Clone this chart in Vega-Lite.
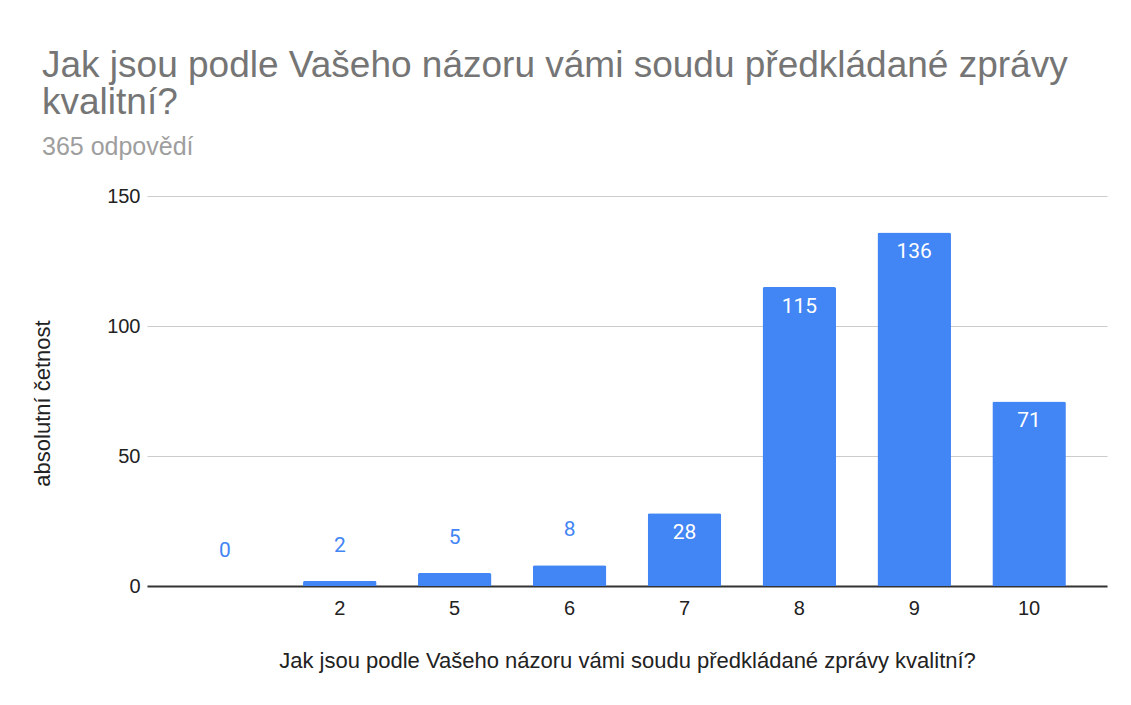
{
  "$schema": "https://vega.github.io/schema/vega-lite/v6.json",
  "width": 960,
  "height": 390,
  "autosize": {"type": "none"},
  "padding": {"left": 147, "top": 196, "right": 24, "bottom": 119},
  "background": "white",
  "view": {"stroke": null},
  "title": {
    "text": ["Jak jsou podle Vašeho názoru vámi soudu  předkládané zprávy", "kvalitní?"],
    "subtitle": "365 odpovědí",
    "anchor": "start",
    "frame": "group",
    "dx": -105,
    "offset": 25,
    "font": "Liberation Sans",
    "fontSize": 37,
    "fontWeight": "normal",
    "color": "#757575",
    "lineHeight": 37,
    "subtitleFont": "Liberation Sans",
    "subtitleFontSize": 25,
    "subtitleColor": "#9e9e9e",
    "subtitlePadding": 13
  },
  "data": {
    "values": [
      {"hodnoceni": "", "pocet": 0},
      {"hodnoceni": "2", "pocet": 2},
      {"hodnoceni": "5", "pocet": 5},
      {"hodnoceni": "6", "pocet": 8},
      {"hodnoceni": "7", "pocet": 28},
      {"hodnoceni": "8", "pocet": 115},
      {"hodnoceni": "9", "pocet": 136},
      {"hodnoceni": "10", "pocet": 71}
    ]
  },
  "encoding": {
    "x": {
      "field": "hodnoceni",
      "type": "ordinal",
      "sort": null,
      "scale": {"paddingInner": 0.36, "paddingOuter": 0.358},
      "axis": {
        "title": "Jak jsou podle Vašeho názoru vámi soudu  předkládané zprávy kvalitní?",
        "titleFont": "Liberation Sans",
        "titleFontSize": 22,
        "titleFontWeight": "normal",
        "titleColor": "#222222",
        "titlePadding": 32,
        "labelAngle": 0,
        "labelFont": "Liberation Sans",
        "labelFontSize": 20,
        "labelColor": "#222222",
        "labelPadding": 12,
        "ticks": false,
        "domainColor": "#333333",
        "domainWidth": 2,
        "grid": false
      }
    },
    "y": {
      "field": "pocet",
      "type": "quantitative",
      "scale": {"domain": [0, 150], "nice": false},
      "axis": {
        "title": "absolutní četnost",
        "titleFont": "Liberation Sans",
        "titleFontSize": 22,
        "titleFontWeight": "normal",
        "titleColor": "#222222",
        "titleX": -105,
        "titleY": 207,
        "titleAngle": 270,
        "titleAlign": "center",
        "titleBaseline": "middle",
        "values": [0, 50, 100, 150],
        "labelFont": "Liberation Sans",
        "labelFontSize": 20,
        "labelColor": "#222222",
        "labelPadding": 7,
        "ticks": false,
        "domain": false,
        "gridColor": "#cccccc",
        "gridWidth": 1
      }
    }
  },
  "layer": [
    {
      "mark": {"type": "bar", "color": "#4285f4", "cornerRadiusTopLeft": 2, "cornerRadiusTopRight": 2}
    },
    {
      "transform": [{"filter": "datum.pocet < 20"}],
      "mark": {"type": "text", "dy": -35, "baseline": "middle", "color": "#4285f4", "font": "Roboto", "fontSize": 21},
      "encoding": {"text": {"field": "pocet", "type": "quantitative"}}
    },
    {
      "transform": [{"filter": "datum.pocet >= 20"}],
      "mark": {"type": "text", "dy": 20, "baseline": "middle", "color": "white", "font": "Roboto", "fontSize": 21},
      "encoding": {"text": {"field": "pocet", "type": "quantitative"}}
    }
  ]
}
